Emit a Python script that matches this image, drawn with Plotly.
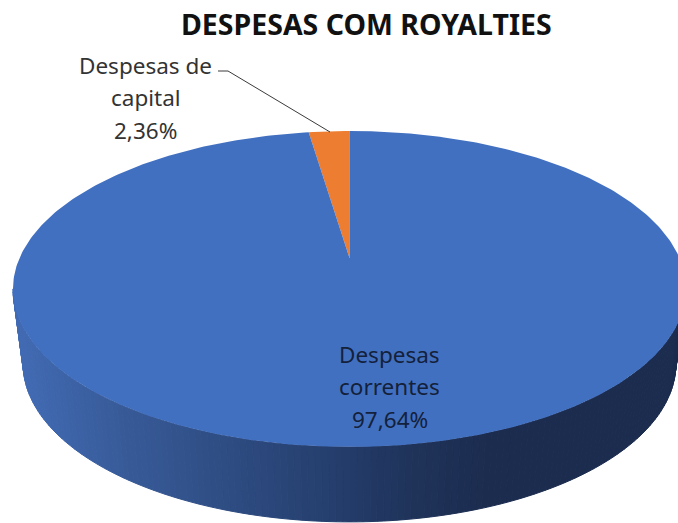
import math
import plotly.graph_objects as go

title = "DESPESAS COM ROYALTIES"
categories = ["Despesas de capital", "Despesas correntes"]
values = [2.36, 97.64]
value_labels = ["2,36%", "97,64%"]
slice_colors = ["#ED7D31", "#4270C1"]
side_stops = [(13, (66, 108, 182)), (120, (56, 91, 153)), (230, (46, 76, 130)),
              (340, (36, 61, 107)), (420, (31, 50, 88)), (490, (27, 44, 79)), (680, (27, 44, 79))]

CX, APEX_Y, K, A = 349.5, 258.0, 0.196, -101.3
W_TOP, W_BOT, DEPTH = 330.0, 320.0, 75.0


def project(phi, radius=1.0, w=W_TOP, dy=0.0):
    u, v = radius * math.sin(phi), radius * math.cos(phi)
    d = 1 + K * v
    return CX + w * u / d, (A * v + APEX_Y) / d + dy


def side_color(x):
    for (x0, c0), (x1, c1) in zip(side_stops, side_stops[1:]):
        if x <= x1:
            f = max(0.0, (x - x0) / (x1 - x0))
            r, g, b = [round(a + (b - a) * f) for a, b in zip(c0, c1)]
            return f"rgb({r},{g},{b})"
    return "rgb(27,44,79)"


fig = go.Figure()


def poly(xs, ys, color, lw=0.0):
    fig.add_trace(go.Scatter(x=xs, y=ys, mode="lines", fill="toself", fillcolor=color,
                             line=dict(color=color, width=lw), hoverinfo="skip", showlegend=False))


# side wall
n = 160
start, end = math.radians(101.3), math.radians(258.7)
for i in range(n):
    a0 = start + (end - start) * i / n
    a1 = start + (end - start) * (i + 1) / n
    p = [project(a0), project(a1), project(a1, w=W_BOT, dy=DEPTH), project(a0, w=W_BOT, dy=DEPTH)]
    xs = [q[0] for q in p] + [p[0][0]]
    ys = [q[1] for q in p] + [p[0][1]]
    poly(xs, ys, side_color(sum(xs[:4]) / 4), 1.0)

# top face: slices are swept counter-clockwise from the top by share of the total
total = sum(values)
angle = 0.0
for val, col in zip(values, slice_colors):
    sweep = val / total * 2 * math.pi
    steps = max(8, int(val * 4))
    pts = [project(-(angle + sweep * j / steps)) for j in range(steps + 1)]
    xs = [CX] + [q[0] for q in pts] + [CX]
    ys = [APEX_Y] + [q[1] for q in pts] + [APEX_Y]
    poly(xs, ys, col)
    angle += sweep

# leader line
fig.add_trace(go.Scatter(x=[218, 228, 330], y=[71, 71, 132], mode="lines",
                         line=dict(color="#3a3a3a", width=1), hoverinfo="skip", showlegend=False))

label_font = dict(family="Noto Sans", size=22.5)
for text, y in zip(["Despesas de", "capital", value_labels[0]], [65, 97, 130]):
    fig.add_annotation(x=145.5, y=y, text=text, showarrow=False, font=dict(color="#333333", **label_font),
                       xanchor="center", yanchor="middle")
for text, y in zip(["Despesas", "correntes", value_labels[1]], [354, 386, 419]):
    fig.add_annotation(x=389.5, y=y, text=text, showarrow=False, font=dict(color="#14213a", **label_font),
                       xanchor="center", yanchor="middle")
fig.add_annotation(x=366, y=23.5, text=f"<b>{title}</b>", showarrow=False,
                   font=dict(family="Noto Sans", size=28.5, color="#111111"), xanchor="center", yanchor="middle")

fig.update_layout(width=678, height=523, margin=dict(l=0, r=0, t=0, b=0), autosize=False,
                  paper_bgcolor="white", plot_bgcolor="white", showlegend=False,
                  xaxis=dict(range=[0, 678], visible=False, fixedrange=True),
                  yaxis=dict(range=[523, 0], visible=False, fixedrange=True))
fig.write_html("out.html", config=dict(displayModeBar=False),
               post_script="document.body.style.margin='0';document.body.style.overflow='hidden';")
